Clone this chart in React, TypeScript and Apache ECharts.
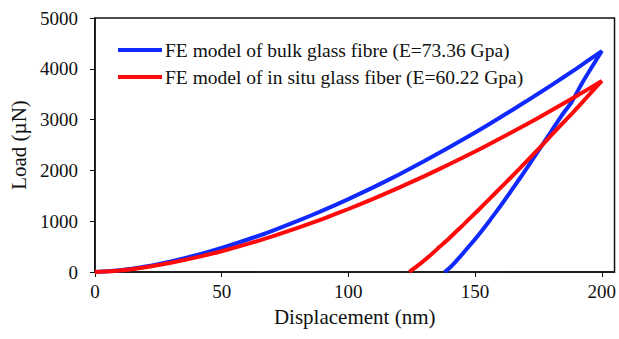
import React, { useEffect, useRef } from "react";
import * as echarts from "echarts";

// Loading branch: displacement (nm) and load (µN)
const bulkLoadX = [0, 10, 20, 30, 40, 50, 60, 70, 80, 90, 100, 110, 120, 130, 140, 150, 160, 170, 180, 190, 200];
const bulkLoadY = [0, 36, 109, 210, 330, 473, 635, 810, 1005, 1212, 1435, 1670, 1920, 2183, 2460, 2745, 3045, 3355, 3675, 4005, 4350];
// Unloading branch
const bulkUnloadX = [196, 192, 188, 184, 180, 176, 172, 168, 164, 160, 156, 152, 148, 146, 144, 142, 140, 138];
const bulkUnloadY = [4030, 3700, 3340, 3070, 2765, 2465, 2165, 1870, 1580, 1300, 1030, 770, 530, 413, 297, 186, 84, 0];

const situLoadX = [0, 10, 20, 30, 40, 50, 60, 70, 80, 90, 100, 110, 120, 130, 140, 150, 160, 170, 180, 190, 200];
const situLoadY = [0, 31, 94, 181, 287, 409, 548, 701, 868, 1048, 1240, 1445, 1660, 1887, 2125, 2373, 2631, 2899, 3177, 3464, 3760];
const situUnloadX = [196, 192, 188, 184, 180, 176, 172, 168, 164, 160, 156, 152, 148, 144, 140, 136, 132, 128, 124];
const situUnloadY = [3545, 3325, 3110, 2900, 2690, 2475, 2265, 2060, 1855, 1655, 1455, 1255, 1060, 865, 675, 495, 315, 150, 0];

const xTicks = [0, 50, 100, 150, 200];
const yTicks = [0, 1000, 2000, 3000, 4000, 5000];

const seriesNames = [
  "FE model of bulk glass fibre (E=73.36 Gpa)",
  "FE model of in situ glass fiber (E=60.22 Gpa)",
];

const zip = (xs: number[], ys: number[]) => xs.map((x, i) => [x, ys[i]]);

const FONT = "'Liberation Serif', 'Times New Roman', serif";

export default function App() {
  const ref = useRef<HTMLDivElement>(null);

  useEffect(() => {
    if (!ref.current) return;
    const chart = echarts.init(ref.current, undefined, { renderer: "svg" });
    const bulk = [...zip(bulkLoadX, bulkLoadY), ...zip(bulkUnloadX, bulkUnloadY)];
    const situ = [...zip(situLoadX, situLoadY), ...zip(situUnloadX, situUnloadY)];
    chart.setOption({
      animation: false,
      backgroundColor: "#fff",
      textStyle: { fontFamily: FONT },
      grid: {
        left: 91,
        top: 18,
        right: 2,
        bottom: 67,
        show: true,
        borderColor: "#111",
        borderWidth: 1.5,
      },
      legend: {
        orient: "vertical",
        left: 113,
        top: 35,
        itemWidth: 44,
        itemHeight: 4,
        itemGap: 7,
        icon: "rect",
        textStyle: { fontFamily: FONT, fontSize: 19.5, color: "#111", padding: [0, 0, 0, -2] },
        data: seriesNames,
      },
      xAxis: {
        type: "value",
        min: xTicks[0],
        max: 205,
        interval: 50,
        name: "Displacement (nm)",
        nameLocation: "middle",
        nameGap: 34,
        nameTextStyle: { fontFamily: FONT, fontSize: 21, color: "#111" },
        axisLine: { show: true, lineStyle: { color: "#111", width: 1.5 } },
        axisTick: { show: true, length: 5, lineStyle: { color: "#111" } },
        axisLabel: {
          fontFamily: FONT,
          fontSize: 19,
          color: "#111",
          margin: 10,
          showMaxLabel: false,
          formatter: (v: number) => (xTicks.includes(v) ? String(v) : ""),
        },
        splitLine: { show: false },
      },
      yAxis: {
        type: "value",
        min: yTicks[0],
        max: yTicks[yTicks.length - 1],
        interval: 1000,
        name: "Load (µN)",
        nameLocation: "middle",
        nameGap: 60,
        nameTextStyle: { fontFamily: FONT, fontSize: 21, color: "#111" },
        axisLine: { show: true, lineStyle: { color: "#111", width: 1.5 } },
        axisTick: { show: true, length: 5, lineStyle: { color: "#111" } },
        axisLabel: {
          fontFamily: FONT,
          fontSize: 19,
          color: "#111",
          margin: 17,
          formatter: (v: number) => String(v),
        },
        splitLine: { show: false },
      },
      series: [
        {
          name: seriesNames[0],
          type: "line",
          data: bulk,
          showSymbol: false,
          smooth: 0.2,
          color: "#1029ff",
          lineStyle: { width: 4, color: "#1029ff" },
        },
        {
          name: seriesNames[1],
          type: "line",
          data: situ,
          showSymbol: false,
          smooth: 0.2,
          color: "#ff0a0a",
          lineStyle: { width: 4, color: "#ff0a0a" },
        },
      ],
    });
    return () => chart.dispose();
  }, []);

  return (
    <div
      ref={ref}
      style={{ position: "fixed", left: 0, top: 0, width: 619, height: 339, background: "#fff" }}
    />
  );
}
